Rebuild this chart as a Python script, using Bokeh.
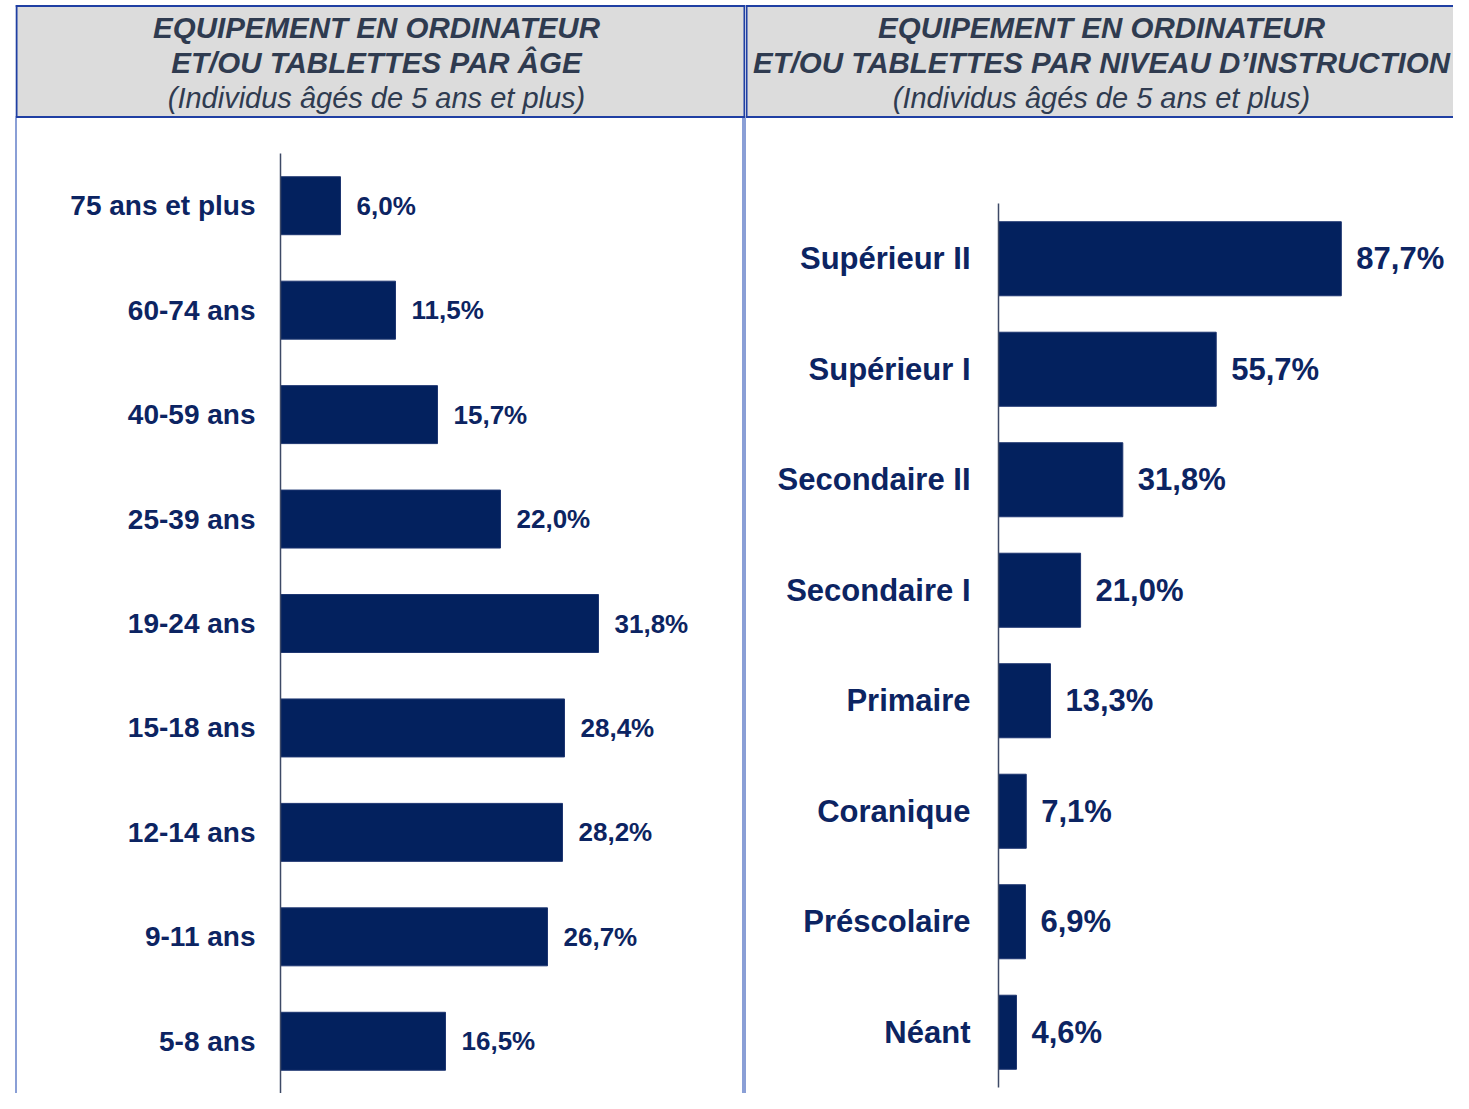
from bokeh.plotting import figure
from bokeh.models import Range1d, FactorRange, Spacer, ColumnDataSource
from bokeh.layouts import row, column
from bokeh.core.properties import value
from bokeh.embed import file_html
from bokeh.resources import INLINE

# ---- data ----
cats_age = ["75 ans et plus", "60-74 ans", "40-59 ans", "25-39 ans", "19-24 ans",
            "15-18 ans", "12-14 ans", "9-11 ans", "5-8 ans"]
vals_age = [6.0, 11.5, 15.7, 22.0, 31.8, 28.4, 28.2, 26.7, 16.5]

cats_edu = ["Supérieur II", "Supérieur I", "Secondaire II", "Secondaire I",
            "Primaire", "Coranique", "Préscolaire", "Néant"]
vals_edu = [87.7, 55.7, 31.8, 21.0, 13.3, 7.1, 6.9, 4.6]

title_age = ["EQUIPEMENT EN ORDINATEUR", "ET/OU TABLETTES PAR ÂGE"]
title_edu = ["EQUIPEMENT EN ORDINATEUR", "ET/OU TABLETTES PAR NIVEAU D\u2019INSTRUCTION"]
subtitle = "(Individus âgés de 5 ans et plus)"

# ---- styles ----
FONT = "Liberation Sans"
NAVY = "#03215e"
LABEL = "#0c2462"
HDR_TEXT = "#2f3b50"
HDR_FILL = "#dcdcdc"
DARK_BORDER = "#1f3fa3"
LIGHT_BORDER = "#8a9fd6"
HDR_H = 118
CH_H = 975


def fmt(v):
    return f"{v:.1f}".replace(".", ",") + "%"


def header(width, lines, sub, cx, left_border, right_border):
    p = figure(width=width, height=HDR_H, x_range=Range1d(0, width), y_range=Range1d(0, HDR_H),
               min_border=0, toolbar_location=None, output_backend="svg",
               x_axis_location=None, y_axis_location=None)
    p.grid.visible = False
    p.outline_line_color = None
    p.quad(left=0, right=width, bottom=1, top=112.5, fill_color=HDR_FILL, line_color=None)
    p.segment(x0=[0, 0], y0=[112.5, 1.5], x1=[width, width], y1=[112.5, 1.5],
              line_color=DARK_BORDER, line_width=2)
    if left_border:
        p.segment(x0=[1], y0=[0], x1=[1], y1=[113.5], line_color=DARK_BORDER, line_width=2)
    if right_border:
        p.segment(x0=[width - 1], y0=[0], x1=[width - 1], y1=[113.5],
                  line_color=DARK_BORDER, line_width=2)
    p.text(x=[cx, cx], y=[91.3, 56.3], text=lines, text_align="center",
           text_baseline="alphabetic", text_font=value(FONT), text_font_style="bold italic",
           text_font_size="29.5px", text_color=HDR_TEXT)
    p.text(x=[cx], y=[21], text=[sub], text_align="center", text_baseline="alphabetic",
           text_font=value(FONT), text_font_style="italic", text_font_size="29px",
           text_color=HDR_TEXT)
    return p


def chart(width, cats, vals, xmax, border_left, border_top, border_bottom, bar_h,
          cat_size, val_size, standoff, val_offset):
    p = figure(width=width, height=CH_H, x_range=Range1d(0, xmax),
               y_range=FactorRange(factors=list(reversed(cats))),
               min_border_left=border_left, min_border_top=border_top,
               min_border_bottom=border_bottom, min_border_right=0,
               toolbar_location=None, output_backend="svg", x_axis_location=None)
    p.grid.visible = False
    p.outline_line_color = None
    src = ColumnDataSource(dict(cat=cats, val=vals, lab=[fmt(v) for v in vals]))
    p.hbar(y="cat", left=0, right="val", height=bar_h, source=src,
           fill_color=NAVY, line_color="#1d3570", line_width=1)
    p.text(x="val", y="cat", text="lab", source=src, x_offset=val_offset,
           text_baseline="middle", text_align="left", text_font=value(FONT),
           text_font_style="bold", text_font_size=val_size, text_color=LABEL)
    ax = p.yaxis[0]
    ax.axis_line_color = "#3d4966"
    ax.axis_line_width = 1.5
    ax.major_tick_line_color = None
    ax.minor_tick_line_color = None
    ax.major_tick_out = 0
    ax.major_tick_in = 0
    ax.major_label_standoff = standoff
    ax.major_label_text_font = FONT
    ax.major_label_text_font_style = "bold"
    ax.major_label_text_font_size = cat_size
    ax.major_label_text_color = LABEL
    return p


h_left = header(730, title_age, subtitle, 361, True, True)
h_right = header(708, title_edu, subtitle, 356, True, False)

c_left = chart(725, cats_age, vals_age, 46.2, 263, 35, 0, 0.555, "28px", "26px", 25, 16)
c_right = chart(707, cats_edu, vals_edu, 116.4, 252, 85, 6, 0.67, "31px", "31px", 28, 15)

left_col = column(
    h_left,
    row(Spacer(width=2, height=CH_H, styles={"background-color": LIGHT_BORDER}),
        c_left,
        Spacer(width=3, height=CH_H, styles={"background-color": LIGHT_BORDER})),
)
right_col = column(
    h_right,
    row(Spacer(width=1, height=CH_H, styles={"background-color": LIGHT_BORDER}),
        c_right),
)
layout = row(Spacer(width=15, height=HDR_H + CH_H), left_col, right_col)

open("out.html", "w").write(file_html(layout, INLINE))
